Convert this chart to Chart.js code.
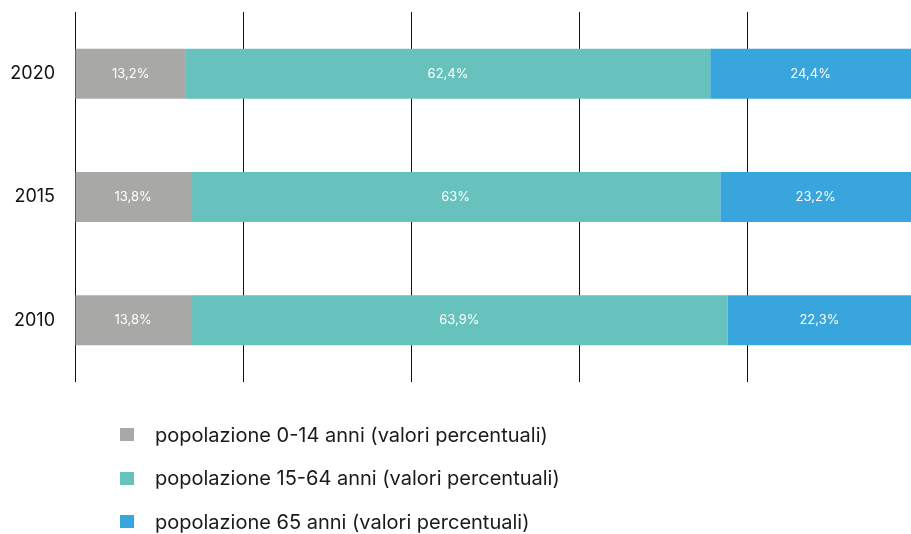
<!DOCTYPE html>
<html><head><meta charset="utf-8">
<script src="https://cdn.jsdelivr.net/npm/chart.js@4/dist/chart.umd.min.js"></script>
<style>
html,body{margin:0;padding:0;background:#fff;}
#wrap{position:relative;width:911px;height:534px;overflow:hidden;}
#legend{position:absolute;left:120px;top:413px;font-family:Inter,"Noto Sans",sans-serif;font-size:20px;color:#1a1a1a;white-space:nowrap;}
#legend div{display:flex;align-items:center;height:43.5px;}
#legend span.sw{display:inline-block;width:14px;height:13px;margin-right:21px;flex:none;}
</style></head>
<body>
<div id="wrap"><canvas id="c" width="911" height="534"></canvas>
<div id="legend"></div></div>
<script>
const categories = ["2020", "2015", "2010"];
const seriesNames = ["popolazione 0-14 anni (valori percentuali)", "popolazione 15-64 anni (valori percentuali)", "popolazione 65 anni (valori percentuali)"];
const pop0_14 = [13.2, 13.8, 13.8];
const pop15_64 = [62.4, 63, 63.9];
const pop65 = [24.4, 23.2, 22.3];
const colors = ["#a8a8a6", "#67c1bd", "#38a5dc"];
const xTicks = [0, 20, 40, 60, 80];

const fmt = v => String(v).replace('.', ',') + '%';

const labelPlugin = {
  id: 'segLabels',
  afterDatasetsDraw(chart) {
    const ctx = chart.ctx;
    ctx.save();
    ctx.fillStyle = '#ffffff';
    ctx.font = '13px Inter, "Noto Sans", sans-serif';
    ctx.textAlign = 'center';
    ctx.textBaseline = 'middle';
    chart.data.datasets.forEach((ds, di) => {
      chart.getDatasetMeta(di).data.forEach((el, i) => {
        const p = el.getProps(['x', 'base', 'y'], true);
        const cx = Math.min((p.x + p.base) / 2, (p.base + chart.chartArea.right) / 2);
        ctx.fillText(fmt(ds.data[i]), cx, p.y);
      });
    });
    ctx.restore();
  }
};

const allSeries = [pop0_14, pop15_64, pop65];
new Chart(document.getElementById('c'), {
  type: 'bar',
  data: {
    labels: categories,
    datasets: allSeries.map((d, i) => ({
      label: seriesNames[i], data: d, backgroundColor: colors[i], borderWidth: 0,
      categoryPercentage: 1, barPercentage: 0.405
    }))
  },
  options: {
    indexAxis: 'y',
    responsive: false,
    animation: false,
    layout: { padding: { top: 12, bottom: 152, left: 0, right: 0 } },
    plugins: { legend: { display: false }, tooltip: { enabled: false } },
    scales: {
      x: {
        stacked: true, min: 0, max: 99.5, z: 1,
        afterBuildTicks: s => { s.ticks = xTicks.map(v => ({ value: v })); },
        ticks: { display: false },
        grid: { color: '#111', lineWidth: 1, drawTicks: false },
        border: { display: false }
      },
      y: {
        stacked: true,
        grid: { display: false, drawTicks: false },
        border: { display: false },
        afterFit: s => { s.width = 75; s.paddingTop = 0; s.paddingBottom = 0; },
        ticks: { color: '#111', padding: 20, font: { family: 'Inter, "Noto Sans", sans-serif', size: 18 } }
      }
    }
  },
  plugins: [labelPlugin]
});

const lg = document.getElementById('legend');
seriesNames.forEach((n, i) => {
  const d = document.createElement('div');
  d.innerHTML = '<span class="sw" style="background:' + colors[i] + '"></span>' + n;
  lg.appendChild(d);
});
</script>
</body></html>
